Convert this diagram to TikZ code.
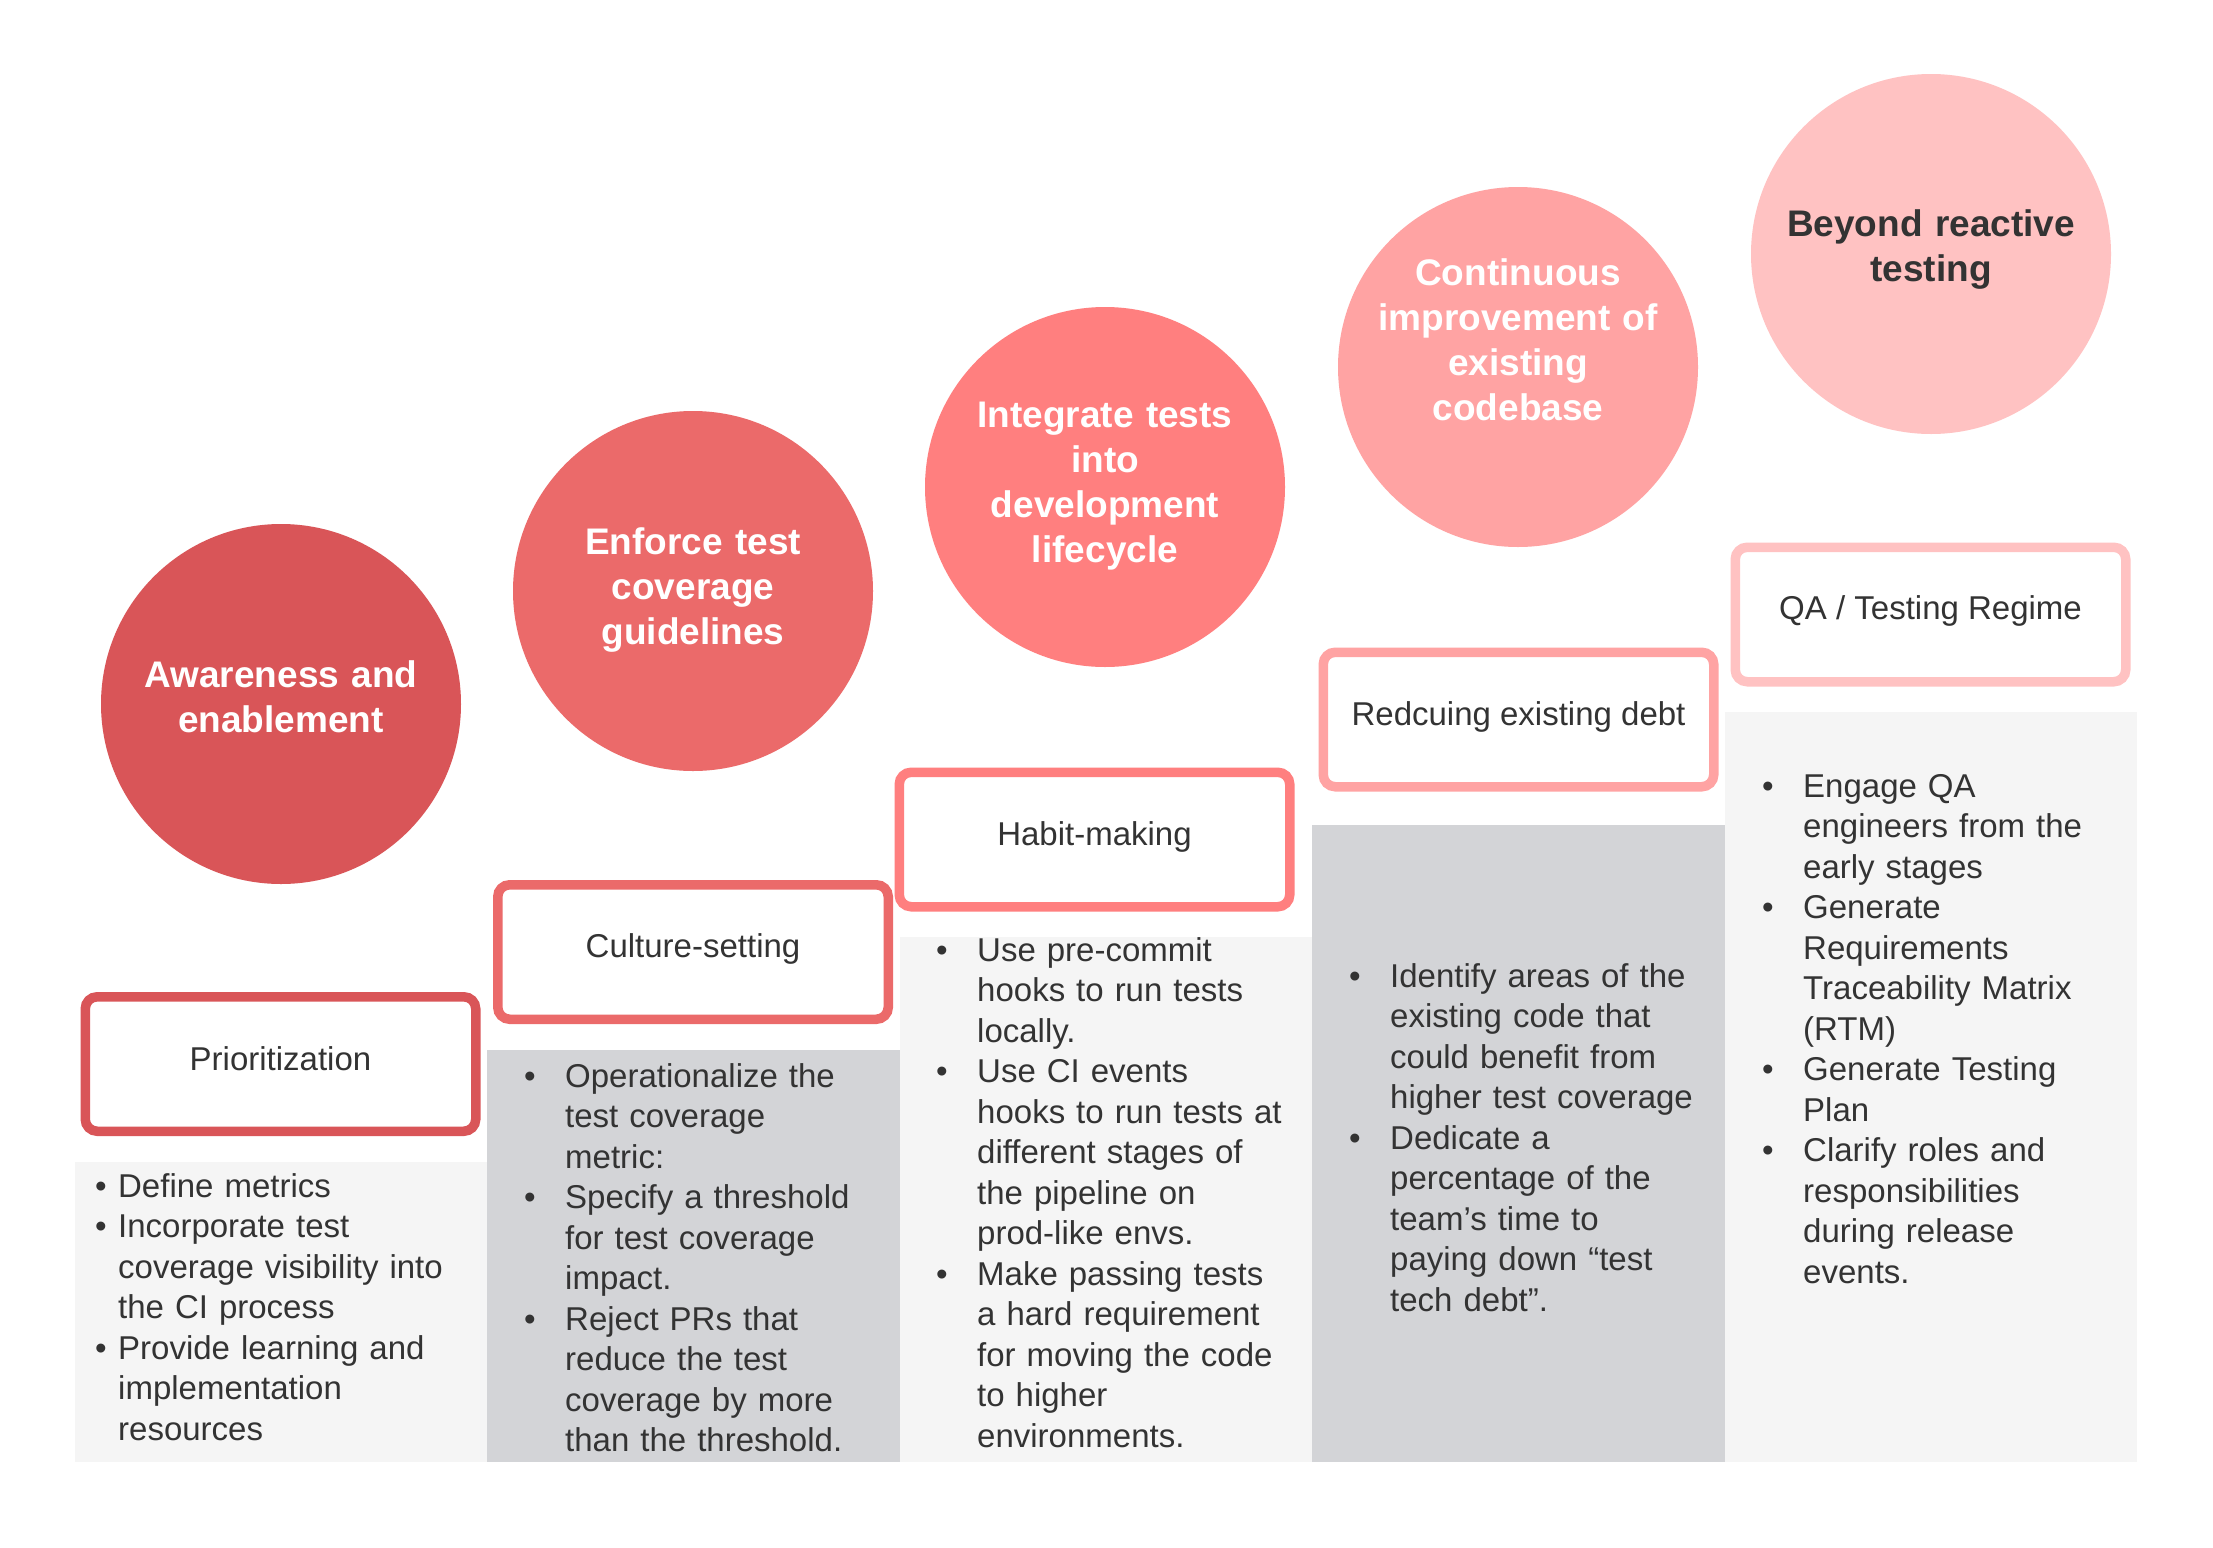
\documentclass[tikz,border=0pt]{standalone}
\usepackage{fontspec}
\setmainfont{Liberation Sans}
\definecolor{cA}{HTML}{D95558}
\definecolor{cB}{HTML}{EB6A6A}
\definecolor{cC}{HTML}{FF7F7F}
\definecolor{cD}{HTML}{FFA3A3}
\definecolor{cE}{HTML}{FFC2C2}
\definecolor{panelL}{HTML}{F5F5F5}
\definecolor{panelG}{HTML}{D3D4D7}
\definecolor{ink}{HTML}{333333}
\tikzset{
  disc/.style={circle, inner sep=0pt, minimum size=360pt, fill=#1, draw=none},
  stagebox/.style={rectangle, rounded corners=12pt, draw=#1, line width=9.5pt, fill=white,
    minimum width=390.5pt, minimum height=134.5pt, inner sep=0pt},
  disctext/.style={text=#1, font=\fontsize{37}{45}\selectfont\bfseries, align=center,
    text width=380pt, anchor=base, inner sep=0pt},
  labeltext/.style={text=ink, font=\fontsize{33}{40}\selectfont, anchor=base, inner sep=0pt},
  itemtext/.style={text=ink, font=\fontsize{33}{40.5}\selectfont, align=left,
    text width=420pt, anchor=base west, inner sep=0pt},
  panelbox/.style={fill=#1, draw=none},
}
\newcommand{\bulA}{\leavevmode\llap{\makebox[23pt][l]{•}}}
\newcommand{\bulB}{\leavevmode\llap{\makebox[41pt][l]{•}}}
\begin{document}
\begin{tikzpicture}[x=1pt,y=-1pt]
\useasboundingbox (0,0) rectangle (2213,1547);
\fill[white] (0,0) rectangle (2213,1547);
% panels
\fill[panelbox=panelL] (75,1162) rectangle (487,1462);
\fill[panelbox=panelG] (487,1050) rectangle (900,1462);
\fill[panelbox=panelL] (900,937) rectangle (1312,1462);
\fill[panelbox=panelG] (1312,825) rectangle (1725,1462);
\fill[panelbox=panelL] (1725,712) rectangle (2137,1462);
% stage boxes
\node[stagebox=cA] (b1) at (280.5,1064) {};
\node[stagebox=cB] (b2) at (693,952) {};
\node[stagebox=cC] (b3) at (1094.5,839.5) {};
\node[stagebox=cD] (b4) at (1518.5,719.5) {};
\node[stagebox=cE] (b5) at (1930.5,614.5) {};
\node[labeltext] (l1) at (280.5,1070) {Prioritization};
\node[labeltext] (l2) at (693,957) {Culture-setting};
\node[labeltext] (l3) at (1094.5,845) {Habit-making};
\node[labeltext] (l4) at (1518.5,725) {Redcuing existing debt};
\node[labeltext] (l5) at (1930.5,619) {QA / Testing Regime};
% circles
\node[disc=cA] (c1) at (281,704) {};
\node[disc=cB] (c2) at (693,591) {};
\node[disc=cC] (c3) at (1105,487) {};
\node[disc=cD] (c4) at (1518,367) {};
\node[disc=cE] (c5) at (1931,254) {};
\node[disctext=white] (t1) at (281,687) {Awareness and\\enablement};
\node[disctext=white] (t2) at (693,554) {Enforce test\\coverage\\guidelines};
\node[disctext=white] (t3) at (1105,427) {Integrate tests\\into\\development\\lifecycle};
\node[disctext=white] (t4) at (1518,285) {Continuous\\improvement of\\existing\\codebase};
\node[disctext=ink] (t5) at (1931,236) {Beyond reactive\\testing};
% bullet lists
\node[itemtext] (p1) at (118,1197) {\bulA Define metrics\\
\bulA Incorporate test\\coverage visibility into\\the CI process\\
\bulA Provide learning and\\implementation\\resources};
\node[itemtext] (p2) at (565,1087) {\bulB Operationalize the\\test coverage\\metric:\\
\bulB Specify a threshold\\for test coverage\\impact.\\
\bulB Reject PRs that\\reduce the test\\coverage by more\\than the threshold.};
\node[itemtext] (p3) at (977,961) {\bulB Use pre-commit\\hooks to run tests\\locally.\\
\bulB Use CI events\\hooks to run tests at\\different stages of\\the pipeline on\\prod-like envs.\\
\bulB Make passing tests\\a hard requirement\\for moving the code\\to higher\\environments.};
\node[itemtext] (p4) at (1390,987) {\bulB Identify areas of the\\existing code that\\could benefit from\\higher test coverage\\
\bulB Dedicate a\\percentage of the\\team’s time to\\paying down “test\\tech debt”.};
\node[itemtext] (p5) at (1803,797) {\bulB Engage QA\\engineers from the\\early stages\\
\bulB Generate\\Requirements\\Traceability Matrix\\(RTM)\\
\bulB Generate Testing\\Plan\\
\bulB Clarify roles and\\responsibilities\\during release\\events.};
\end{tikzpicture}
\end{document}
